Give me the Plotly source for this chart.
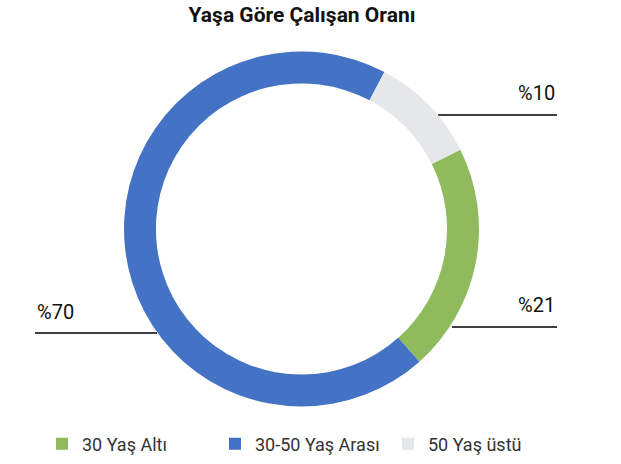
import plotly.graph_objects as go

categories = ["30 Yaş Altı", "30-50 Yaş Arası", "50 Yaş üstü"]
values = [21, 70, 10]
label_texts = ["%21", "%70", "%10"]
colors = ["#8FBB5C", "#4472C4", "#E6E7E8"]

W, H = 621, 464
FONT = "Roboto, Liberation Sans, Arial, sans-serif"

fig = go.Figure(go.Pie(
    labels=categories,
    values=values,
    hole=0.82,
    sort=False,
    direction="clockwise",
    rotation=63.5,
    textinfo="none",
    hoverinfo="label+value",
    marker=dict(colors=colors, line=dict(width=0)),
    domain=dict(x=[124 / W, 479 / W], y=[1 - 407 / H, 1 - 51 / H]),
))

def px(x):
    return x / W

def py(y):
    return 1 - y / H

# leader lines: (x0, x1, y) in pixels
leaders = [(452, 557, 327), (35, 157, 333), (438, 557, 115)]
label_pos = [(557, 305, "right"), (35, 312, "left"), (557, 93, "right")]

for (x0, x1, y) in leaders:
    fig.add_shape(type="line", xref="paper", yref="paper",
                  x0=px(x0), x1=px(x1), y0=py(y), y1=py(y),
                  line=dict(color="#000000", width=1.5), layer="below")

for txt, (x, y, anchor) in zip(label_texts, label_pos):
    fig.add_annotation(xref="paper", yref="paper", x=px(x), y=py(y),
                       text=txt, showarrow=False, xanchor=anchor, yanchor="middle",
                       font=dict(family=FONT, size=20, color="#111111"))

fig.update_layout(
    width=W, height=H,
    margin=dict(l=0, r=0, t=0, b=0),
    paper_bgcolor="white", plot_bgcolor="white",
    title=dict(text="<b>Yaşa Göre Çalışan Oranı</b>", x=302 / W, xanchor="center",
               y=1 - 15 / H, yanchor="middle", yref="container",
               font=dict(family=FONT, size=21, color="#111111")),
    legend=dict(orientation="h", x=42 / W, xanchor="left", y=1 - 444 / H, yanchor="middle",
                font=dict(family=FONT, size=18, color="#333333"),
                itemwidth=30, entrywidth=128, entrywidthmode="pixels",
                traceorder="normal"),
    showlegend=True,
)

fig.write_html("out.html", config={"displayModeBar": False},
               post_script="document.body.style.margin='0px';")
